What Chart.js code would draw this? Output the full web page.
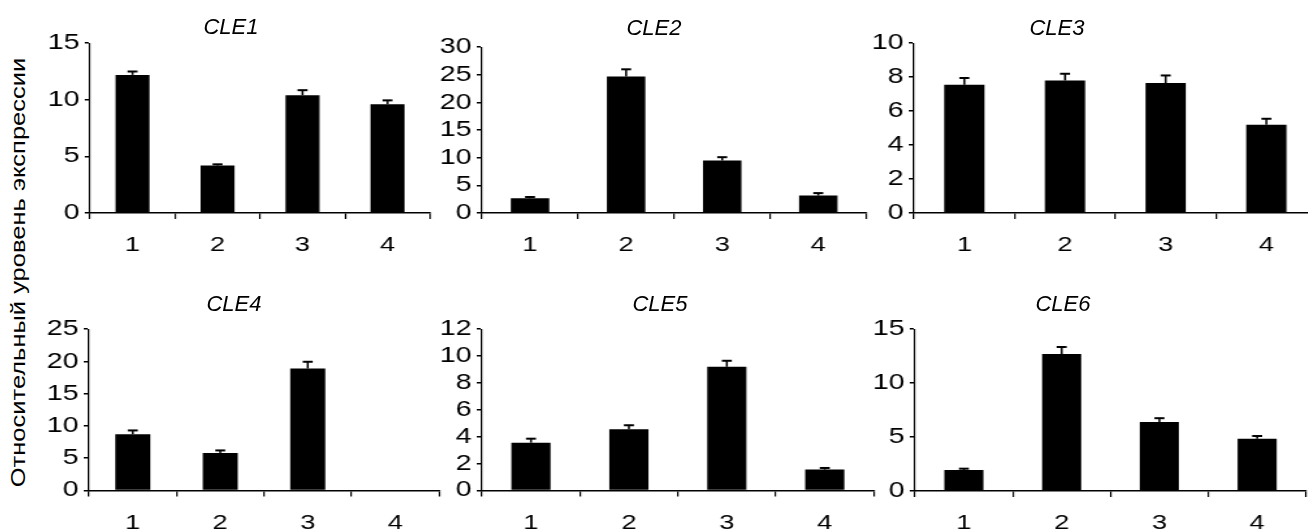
<!DOCTYPE html>
<html lang="ru">
<head>
<meta charset="utf-8">
<title>CLE expression</title>
<script src="https://cdn.jsdelivr.net/npm/chart.js@4.4.1/dist/chart.umd.min.js"></script>
<style>
    html, body { margin: 0; padding: 0; background: #fff; }
    body {
        width: 1308px;
        height: 530px;
        overflow: hidden;
        position: relative;
        font-family: 'Liberation Sans', Arial, sans-serif;
        color: #000;
    }
    .panel { position: absolute; transform-origin: 0 0; }
    .title {
        position: absolute;
        font-style: italic;
        font-size: 22px;
        line-height: 1;
        white-space: nowrap;
        transform: translate(-50%, -50%);
    }
    #yLabel {
        position: absolute;
        font-size: 21px;
        line-height: 1;
        white-space: nowrap;
    }
</style>
</head>
<body>
<div id="yLabel">Относительный уровень экспрессии</div>
<script>
// Categories (x axis)
const categories = ['1', '2', '3', '4'];

// Panel titles
const geneNames = ['CLE1', 'CLE2', 'CLE3', 'CLE4', 'CLE5', 'CLE6'];

// Mean expression per gene
const cle1Values = [12.2, 4.2, 10.4, 9.6];
const cle2Values = [2.65, 24.7, 9.5, 3.15];
const cle3Values = [7.55, 7.8, 7.65, 5.2];
const cle4Values = [8.7, 5.8, 18.9, null];
const cle5Values = [3.55, 4.55, 9.2, 1.55];
const cle6Values = [1.95, 12.7, 6.4, 4.85];

// Upper error bars
const cle1Errors = [0.3, 0.1, 0.45, 0.35];
const cle2Errors = [0.25, 1.3, 0.6, 0.45];
const cle3Errors = [0.4, 0.4, 0.45, 0.35];
const cle4Errors = [0.6, 0.4, 1.05, null];
const cle5Errors = [0.3, 0.3, 0.45, 0.12];
const cle6Errors = [0.12, 0.65, 0.35, 0.25];

// Y axis range and tick step per panel
const yMaxValues = [15, 30, 10, 25, 12, 15];
const yStepValues = [5, 5, 2, 5, 2, 5];

const seriesValues = [cle1Values, cle2Values, cle3Values, cle4Values, cle5Values, cle6Values];
const seriesErrors = [cle1Errors, cle2Errors, cle3Errors, cle4Errors, cle5Errors, cle6Errors];

// Panel layout: chart area in page pixels + title centre
const panels = [
    { x0: 90,    x1: 430,  top: 42.3,  bottom: 213.3, titleX: 231,  titleY: 27 },
    { x0: 481.7, x1: 866,  top: 46,    bottom: 213,   titleX: 654,  titleY: 27.5 },
    { x0: 914.3, x1: 1317, top: 42.3,  bottom: 213.3, titleX: 1057, titleY: 27.5 },
    { x0: 89.3,  x1: 439.3, top: 328.3, bottom: 490.7, titleX: 234, titleY: 304 },
    { x0: 482.3, x1: 874,  top: 328.3, bottom: 490.7, titleX: 660,  titleY: 304 },
    { x0: 915,   x1: 1306, top: 327.7, bottom: 490.7, titleX: 1063, titleY: 304 }
];

const SX = 1.3;          // horizontal stretch of the original figure
const Y_AXIS_W = 40;
const X_AXIS_H = 45;
const PAD_TOP = 16;
const FONT = "'Liberation Sans', Arial, sans-serif";

// Error bars drawn from the y scale
const errorBarPlugin = {
    id: 'errorBars',
    afterDatasetsDraw(chart) {
        const ctx = chart.ctx;
        const yScale = chart.scales.y;
        const ds = chart.data.datasets[0];
        const meta = chart.getDatasetMeta(0);
        ctx.save();
        ctx.strokeStyle = '#000';
        meta.data.forEach((bar, k) => {
            const v = ds.data[k];
            const e = ds.errors[k];
            if (v == null || !e) return;
            const yTop = yScale.getPixelForValue(v + e);
            ctx.lineWidth = 2 / SX;
            ctx.beginPath();
            ctx.moveTo(bar.x, bar.y);
            ctx.lineTo(bar.x, yTop);
            ctx.stroke();
            ctx.lineWidth = 2;
            ctx.beginPath();
            ctx.moveTo(bar.x - 5 / SX, yTop);
            ctx.lineTo(bar.x + 5 / SX, yTop);
            ctx.stroke();
        });
        ctx.restore();
    }
};

function createPanel(i) {
    const p = panels[i];
    const innerW = (p.x1 - p.x0) / SX;
    const plotH = p.bottom - p.top;
    const w = Math.ceil(Y_AXIS_W + innerW + 4);
    const h = Math.ceil(PAD_TOP + plotH + X_AXIS_H);
    const padRight = w - Y_AXIS_W - innerW;
    const xAxisH = h - PAD_TOP - plotH;

    const wrap = document.createElement('div');
    wrap.className = 'panel';
    wrap.style.left = (p.x0 - Y_AXIS_W * SX) + 'px';
    wrap.style.top = (p.top - PAD_TOP) + 'px';
    wrap.style.width = w + 'px';
    wrap.style.height = h + 'px';
    wrap.style.transform = `scaleX(${SX})`;
    const canvas = document.createElement('canvas');
    canvas.width = w;
    canvas.height = h;
    wrap.appendChild(canvas);
    document.body.appendChild(wrap);

    const title = document.createElement('div');
    title.className = 'title';
    title.textContent = geneNames[i];
    title.style.left = p.titleX + 'px';
    title.style.top = p.titleY + 'px';
    document.body.appendChild(title);

    new Chart(canvas, {
        type: 'bar',
        data: {
            labels: categories,
            datasets: [{
                data: seriesValues[i],
                errors: seriesErrors[i],
                backgroundColor: '#000',
                borderWidth: 0,
                barPercentage: 0.4,
                categoryPercentage: 1
            }]
        },
        options: {
            responsive: false,
            animation: false,
            layout: { padding: { top: PAD_TOP, right: padRight, left: 0, bottom: 0 } },
            plugins: {
                legend: { display: false },
                tooltip: { enabled: false }
            },
            scales: {
                x: {
                    grid: { offset: true, drawOnChartArea: false, tickLength: 6, color: '#000', lineWidth: 1.2 },
                    border: { color: '#000', width: 1.5 },
                    ticks: { color: '#000', font: { family: FONT, size: 21 }, padding: 14, maxRotation: 0, autoSkip: false },
                    afterFit: (s) => { s.height = xAxisH; }
                },
                y: {
                    min: 0,
                    max: yMaxValues[i],
                    grid: { drawOnChartArea: false, tickLength: 4, color: '#000', lineWidth: 1.5 },
                    border: { color: '#000', width: 1.2 },
                    ticks: { stepSize: yStepValues[i], autoSkip: false, color: '#000', font: { family: FONT, size: 22 }, padding: 4 },
                    afterFit: (s) => { s.width = Y_AXIS_W; }
                }
            }
        },
        plugins: [errorBarPlugin]
    });
}

// Rotated shared y axis label
function placeYLabel() {
    const el = document.getElementById('yLabel');
    const natW = el.offsetWidth;
    const natH = el.offsetHeight;
    const k = 430 / natW;
    el.style.left = (17.5 - natW / 2) + 'px';
    el.style.top = (272 - natH / 2) + 'px';
    el.style.transform = `rotate(-90deg) scaleX(${k})`;
}

placeYLabel();
for (let i = 0; i < panels.length; i++) createPanel(i);
</script>
</body>
</html>
